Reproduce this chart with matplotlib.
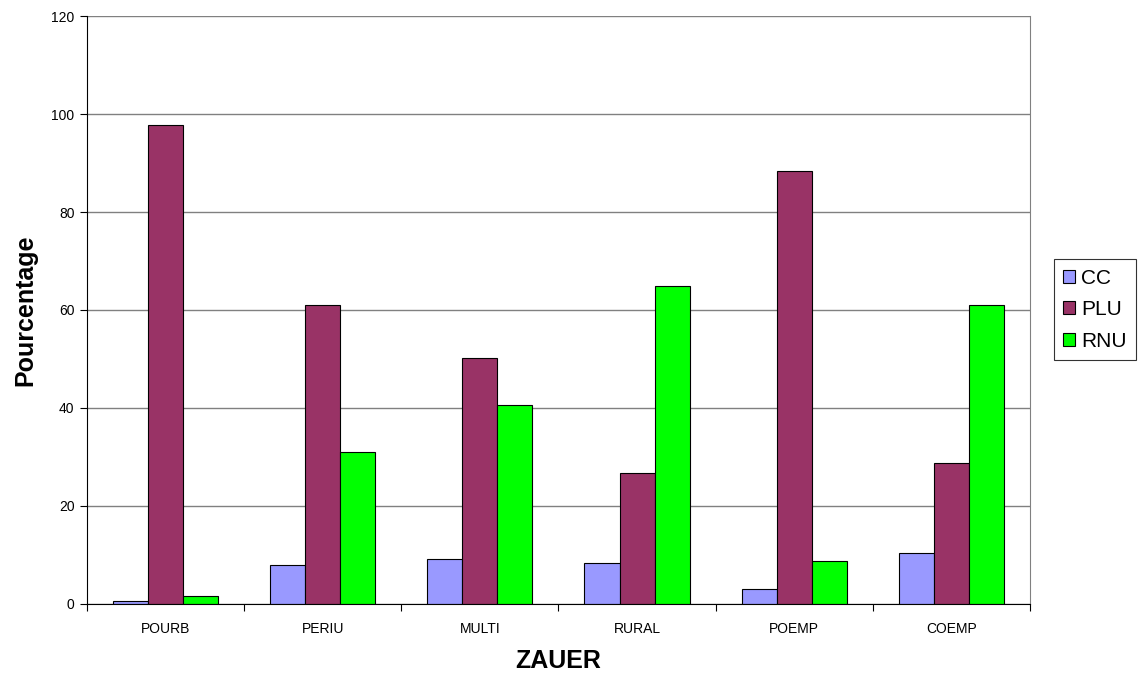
import numpy as np
import matplotlib as mpl
mpl.use('Agg')
import matplotlib.pyplot as plt

categories = ['POURB', 'PERIU', 'MULTI', 'RURAL', 'POEMP', 'COEMP']
cc = [0.7, 8.0, 9.2, 8.4, 3.1, 10.5]
plu = [97.8, 61.1, 50.2, 26.7, 88.3, 28.8]
rnu = [1.6, 31.1, 40.6, 64.8, 8.7, 61.1]

plt.rcParams['font.family'] = ['Liberation Sans', 'DejaVu Sans']

fig = plt.figure(figsize=(11.38, 6.79), dpi=100)
ax = fig.add_axes([0.0765, 0.1105, 0.8285, 0.8659])

x = np.arange(len(categories))
w = 0.223
ax.bar(x - w, cc, w, color='#9999FF', edgecolor='black', linewidth=0.8, label='CC', zorder=2)
ax.bar(x, plu, w, color='#993366', edgecolor='black', linewidth=0.8, label='PLU', zorder=2)
ax.bar(x + w, rnu, w, color='#00FF00', edgecolor='black', linewidth=0.8, label='RNU', zorder=2)

ax.set_xlim(-0.5, len(categories) - 0.5)
ax.set_ylim(0, 120)
ax.set_yticks(range(0, 121, 20))
ax.yaxis.grid(True, color='#808080', linewidth=1, zorder=0)

ax.set_xticks(np.arange(len(categories) + 1) - 0.5)
ax.set_xticklabels([])
ax.set_xticks(x, minor=True)
ax.set_xticklabels(categories, minor=True, fontsize=10)
ax.tick_params(axis='x', which='minor', length=0, pad=13)
ax.tick_params(axis='x', which='major', length=5, direction='out')
ax.tick_params(axis='y', labelsize=10, length=5, direction='out', pad=4)

ax.spines['top'].set_visible(False)
ax.spines['right'].set_color('#808080')
ax.spines['left'].set_color('black')
ax.spines['bottom'].set_color('black')

ax.set_xlabel('ZAUER', fontsize=18, fontweight='bold', labelpad=9)
ax.set_ylabel('Pourcentage', fontsize=18, fontweight='bold', labelpad=10)

leg = fig.legend(loc='center left', bbox_to_anchor=(0.917, 0.544), fontsize=15,
                 handlelength=0.55, handleheight=0.55, handletextpad=0.3,
                 labelspacing=0.6, borderpad=0.45, fancybox=False, frameon=True)
leg.get_frame().set_edgecolor('black')
leg.get_frame().set_linewidth(0.8)

plt.savefig('out.png', dpi=100)
